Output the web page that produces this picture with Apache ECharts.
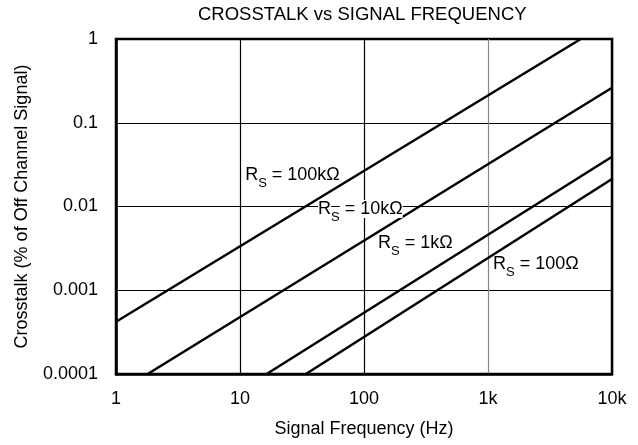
<!DOCTYPE html>
<html>
<head>
<meta charset="utf-8">
<script src="https://cdn.jsdelivr.net/npm/echarts@6/dist/echarts.min.js"></script>
<style>
  html, body { margin: 0; padding: 0; background: #fff; }
  #chart { width: 638px; height: 445px; }
</style>
</head>
<body>
<div id="chart"></div>
<script>
// axis ticks
var xTickValues = [1, 10, 100, 1000, 10000]
var xTickLabels = ['1', '10', '100', '1k', '10k']
var yTickValues = [0.0001, 0.001, 0.01, 0.1, 1]
var yTickLabels = ['0.0001', '0.001', '0.01', '0.1', '1']

// curves (endpoints of straight lines on log-log)
var rs100kFreq = [1, 5600]
var rs100kXt = [0.00042, 1]
var rs10kFreq = [1.8, 10000]
var rs10kXt = [0.0001, 0.262]
var rs1kFreq = [16.4, 10000]
var rs1kXt = [0.0001, 0.0393]
var rs100Freq = [34, 10000]
var rs100Xt = [0.0001, 0.0213]

// curve names and where their labels sit (data units)
var curveNames = ['100kΩ', '10kΩ', '1kΩ', '100Ω']
var labelFreq = [11.0, 42.6, 129.7, 1097]
var labelXt = [0.0238, 0.00933, 0.00367, 0.00206]

var FONT = '"Liberation Sans", Arial, Helvetica, sans-serif'

function tickLabel (values, labels) {
  return function (v) {
    var e = Math.round(Math.log10(v))
    for (var i = 0; i < values.length; i++) {
      if (Math.round(Math.log10(values[i])) === e) return labels[i]
    }
    return ''
  }
}

function pairs (xs, ys) {
  var out = []
  for (var i = 0; i < xs.length; i++) out.push([xs[i], ys[i]])
  return out
}

function makeSeries (idx, xs, ys) {
  var white = idx === 1 ? '#fff' : 'transparent'
  return {
    name: curveNames[idx],
    type: 'line',
    data: pairs(xs, ys),
    showSymbol: false,
    silent: true,
    lineStyle: { color: '#000', width: 2.5 },
    markPoint: {
      symbol: 'circle',
      symbolSize: 0,
      silent: true,
      data: [{ coord: [labelFreq[idx], labelXt[idx]] }],
      label: {
        show: true,
        position: 'right',
        distance: 0,
        formatter: '{r|R}{s|S}{r| = ' + curveNames[idx] + '}',
        rich: {
          r: { fontFamily: FONT, fontSize: 18, color: '#000', lineHeight: 18, backgroundColor: white },
          s: { fontFamily: FONT, fontSize: 13, color: '#000', lineHeight: 13, padding: [16, 0, 0, 0] }
        }
      }
    }
  }
}

var option = {
  animation: false,
  backgroundColor: '#fff',
  title: {
    text: 'CROSSTALK vs SIGNAL FREQUENCY',
    left: 198,
    top: 5,
    padding: 0,
    textStyle: { fontFamily: FONT, fontSize: 18.5, fontWeight: 'normal', color: '#000' }
  },
  grid: {
    left: 116, right: 26, top: 39, bottom: 71,
    show: true,
    borderColor: '#000',
    borderWidth: 2.5,
    outerBoundsMode: 'none'
  },
  xAxis: {
    type: 'log',
    logBase: 10,
    min: 1,
    max: 10000,
    name: 'Signal Frequency (Hz)',
    nameLocation: 'middle',
    nameGap: 46,
    nameTextStyle: { fontFamily: FONT, fontSize: 18, color: '#000' },
    axisLine: { show: true, lineStyle: { color: '#000', width: 2.5 } },
    axisTick: { show: false },
    minorTick: { show: false },
    axisLabel: { fontFamily: FONT, fontSize: 18, color: '#000', margin: 16, formatter: tickLabel(xTickValues, xTickLabels) },
    splitLine: { show: true, lineStyle: { color: ['#000', '#000', '#000', '#888', '#000'], width: 1.2 } }
  },
  yAxis: {
    type: 'log',
    logBase: 10,
    min: 0.0001,
    max: 1,
    name: 'Crosstalk (% of Off Channel Signal)',
    nameLocation: 'middle',
    nameGap: 85,
    nameTextStyle: { fontFamily: FONT, fontSize: 18, color: '#000' },
    axisLine: { show: true, lineStyle: { color: '#000', width: 2.5 } },
    axisTick: { show: false },
    axisLabel: { fontFamily: FONT, fontSize: 18, color: '#000', margin: 18, formatter: tickLabel(yTickValues, yTickLabels) },
    splitLine: { show: true, lineStyle: { color: '#000', width: 1.2 } }
  },
  series: [
    makeSeries(0, rs100kFreq, rs100kXt),
    makeSeries(1, rs10kFreq, rs10kXt),
    makeSeries(2, rs1kFreq, rs1kXt),
    makeSeries(3, rs100Freq, rs100Xt)
  ]
}

var myChart = echarts.init(document.getElementById('chart'))
myChart.setOption(option)
</script>
</body>
</html>
